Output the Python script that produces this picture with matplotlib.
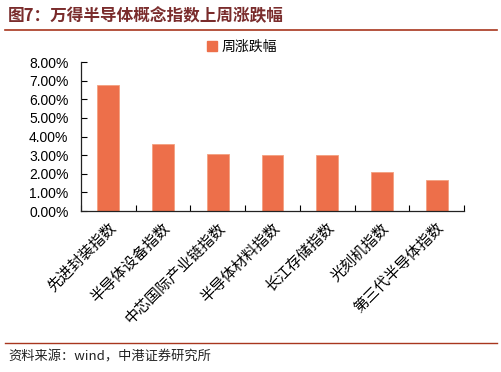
import matplotlib
matplotlib.use("Agg")
import matplotlib.pyplot as plt
from matplotlib.patches import Patch
from matplotlib.lines import Line2D
from matplotlib.ticker import FuncFormatter, FixedLocator

plt.rcParams['font.family'] = ['Noto Sans CJK SC', 'DejaVu Sans']

categories = ["先进封装指数", "半导体设备指数", "中芯国际产业链指数", "半导体材料指数",
              "长江存储指数", "光刻机指数", "第三代半导体指数"]
values = [6.76, 3.59, 3.06, 3.01, 3.01, 2.12, 1.68]
series_name = "周涨跌幅"
title = "图7：万得半导体概念指数上周涨跌幅"
source = "资料来源：wind，中港证券研究所"

bar_color = "#ED6F4A"
line_color = "#A8361E"

fig = plt.figure(figsize=(5.02, 3.72), dpi=100)
ax = fig.add_axes([81/502, 1-211/372, (464-81)/502, (211-62)/372])

x = list(range(len(categories)))
ax.bar(x, values, width=0.4, color=bar_color, edgecolor="#F3A07F", linewidth=0.6)

ax.set_xlim(-0.5, len(categories) - 0.5)
ax.set_ylim(0, 8)
ax.set_yticks([i for i in range(9)])
ax.yaxis.set_major_formatter(FuncFormatter(lambda v, p: f"{v:.2f}%"))
for lab in ax.get_yticklabels():
    lab.set_fontfamily(['Liberation Sans', 'DejaVu Sans'])
ax.tick_params(axis='y', direction='in', length=4, width=0.8, labelsize=10, pad=9)

ax.set_xticks(x)
ax.set_xticklabels(categories, rotation=45, ha='right', va='top', rotation_mode='anchor', fontsize=10.8)
ax.tick_params(axis='x', which='major', length=0, pad=7)
ax.xaxis.set_minor_locator(FixedLocator([i - 0.5 for i in range(len(categories) + 1)]))
ax.tick_params(axis='x', which='minor', direction='in', length=4, width=0.8)

for s in ['top', 'right']:
    ax.spines[s].set_visible(False)
for s in ['left', 'bottom']:
    ax.spines[s].set_linewidth(0.9)
    ax.spines[s].set_color('#222222')

handle = Patch(facecolor=bar_color, edgecolor=bar_color)
fig.legend([handle], [series_name], loc='center left', bbox_to_anchor=(195/502, 1-47/372),
           frameon=False, fontsize=10, handlelength=0.7, handleheight=0.7, handletextpad=0.3)

fig.text(8/502, 1-16/372, title, fontsize=12, fontweight='bold', color='#7A2C2C', va='center', ha='left')
fig.add_artist(Line2D([5/502, 497/502], [1-30/372, 1-30/372], color=line_color, linewidth=1.2))
fig.add_artist(Line2D([5/502, 497/502], [1-343/372, 1-343/372], color=line_color, linewidth=1.0))
fig.text(8/502, 1-357/372, source, fontsize=9.5, style='italic', color='#222222', va='center', ha='left')

fig.savefig("out.png", dpi=100)
